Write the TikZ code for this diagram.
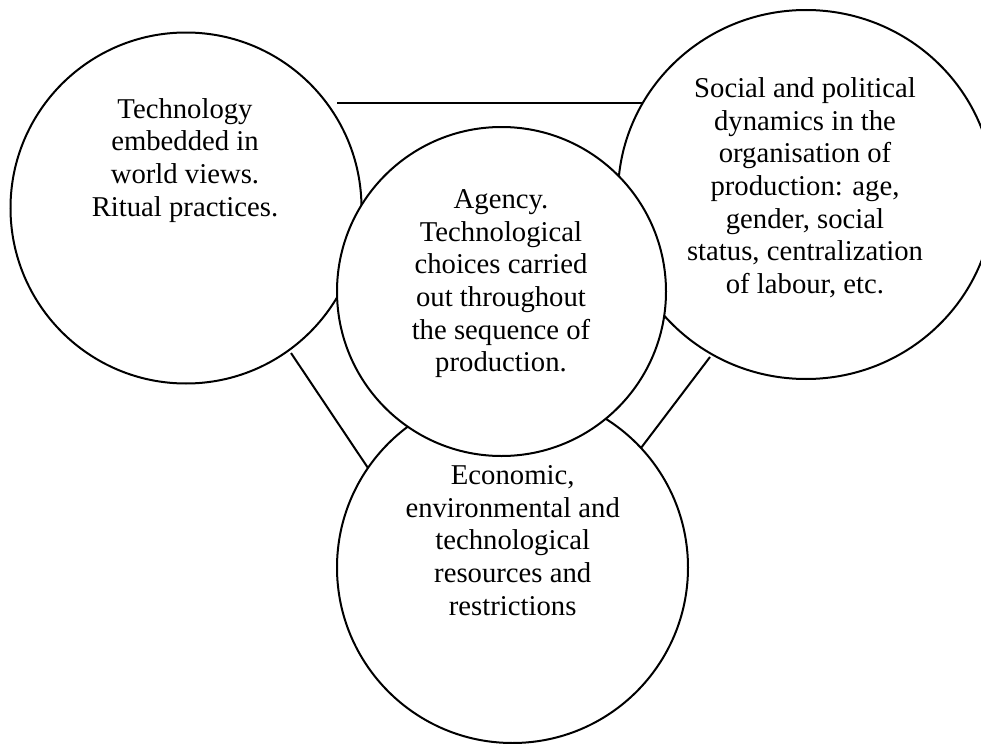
\documentclass[tikz,border=0pt]{standalone}
\usepackage{fontspec}
\setmainfont{Liberation Serif}
\usetikzlibrary{shapes.geometric}
\begin{document}
\begin{tikzpicture}[x=0.5pt,y=-0.5pt,
  ring/.style={draw, circle, line width=1pt, fill=white, inner sep=0pt, outer sep=0pt},
  oval/.style={draw, ellipse, line width=1pt, fill=white, inner sep=0pt, outer sep=0pt},
  link/.style={line width=1pt},
  circtext/.style={align=center, inner sep=0pt, anchor=base,
    font=\fontsize{14.35pt}{16.3pt}\selectfont}]
\useasboundingbox (0,0) rectangle (981,744);
\clip (0,0) rectangle (981,744);

% connector end points
\coordinate (t1) at (337,103);
\coordinate (t2) at (642,103);
\coordinate (l1) at (291,353);
\coordinate (l2) at (370,471);
\coordinate (r1) at (710,357);
\coordinate (r2) at (641,448);

% connectors between the outer circles
\draw[link] (t1) -- (t2);
\draw[link] (l1) -- (l2);
\draw[link] (r1) -- (r2);

% outer circles
\node[ring, minimum size=175.5pt] (world) at (186,208) {};
\node[oval, minimum width=188pt, minimum height=184.5pt] (social) at (806,194.5) {};
\node[ring, minimum size=175.5pt] (econ) at (512.5,567.5) {};
% central circle on top
\node[ring, minimum size=164.5pt] (agency) at (501.5,291.5) {};

% texts (anchored at the baseline of their last line)
\node[circtext] (worldtxt) at (185,216) {Technology\\embedded in\\world views.\\Ritual practices.};
\node[circtext] (socialtxt) at (805,293.3) {Social and political\\dynamics in the\\organisation of\\production: age,\\gender, social\\status, centralization\\of labour, etc.};
\node[circtext] (agencytxt) at (501,371.7) {Agency.\\Technological\\choices carried\\out throughout\\the sequence of\\production.};
\node[circtext] (econtxt) at (512.7,615) {Economic,\\environmental and\\technological\\resources and\\restrictions};
\end{tikzpicture}
\end{document}
